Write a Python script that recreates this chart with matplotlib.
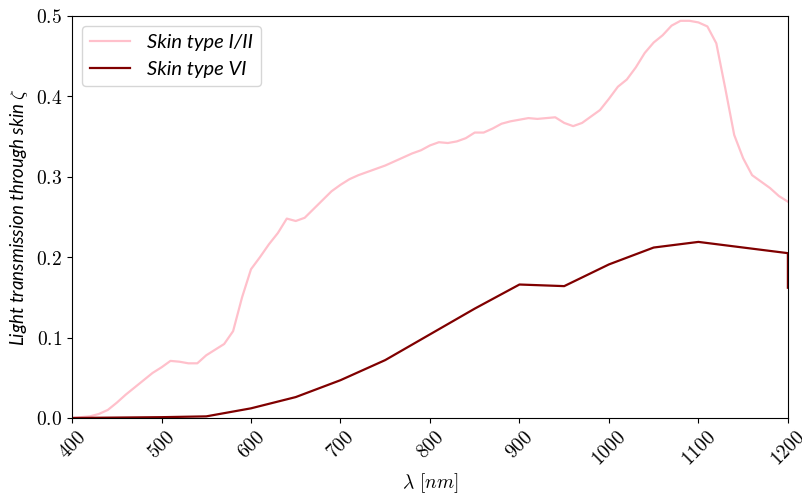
import matplotlib
matplotlib.use("Agg")
import matplotlib.pyplot as plt
import numpy as np

plt.rcParams['mathtext.fontset'] = 'cm'

wl_light = list(range(400, 1201, 10))
skin_light = [0.000, 0.001, 0.002, 0.005, 0.010, 0.019, 0.029, 0.038, 0.047, 0.056,
              0.063, 0.071, 0.070, 0.068, 0.068, 0.078, 0.085, 0.092, 0.108, 0.150,
              0.185, 0.200, 0.216, 0.230, 0.248, 0.245, 0.249, 0.260, 0.271, 0.282,
              0.290, 0.297, 0.302, 0.306, 0.310, 0.314, 0.319, 0.324, 0.329, 0.333,
              0.339, 0.343, 0.342, 0.344, 0.348, 0.355, 0.355, 0.360, 0.366, 0.369,
              0.371, 0.373, 0.372, 0.373, 0.374, 0.367, 0.363, 0.367, 0.375, 0.383,
              0.397, 0.412, 0.421, 0.436, 0.454, 0.467, 0.476, 0.488, 0.494, 0.494,
              0.492, 0.487, 0.466, 0.410, 0.352, 0.323, 0.302, 0.294, 0.286, 0.276,
              0.269]

wl_dark = [400, 500, 550, 600, 650, 700, 750, 800, 850, 900, 950, 1000, 1050, 1100, 1150, 1200, 1200]
skin_dark = [0.000, 0.001, 0.002, 0.012, 0.026, 0.047, 0.072, 0.104, 0.136, 0.166,
             0.164, 0.191, 0.212, 0.219, 0.212, 0.205, 0.162]

xticks = [400, 500, 600, 700, 800, 900, 1000, 1100, 1200]
yticks = [0.0, 0.1, 0.2, 0.3, 0.4, 0.5]

fig = plt.figure(figsize=(8.03, 4.95), dpi=100)
ax = fig.add_axes([0.0897, 0.1556, 0.8915, 0.8121])

ax.plot(wl_light, skin_light, color='pink', lw=1.6, label='Skin type I/II')
ax.plot(wl_dark, skin_dark, color='#800000', lw=1.6, label='Skin type VI')

ax.set_xlim(400, 1200)
ax.set_ylim(0, 0.5)
ax.set_xticks(xticks)
ax.set_xticklabels([f'${t}$' for t in xticks], rotation=45, fontsize=14)
ax.set_yticks(yticks)
ax.set_yticklabels([f'${t:.1f}$' for t in yticks], fontsize=14)

ax.set_xlabel(r'$\lambda\ [nm]$', fontsize=14, labelpad=1)
ax.set_ylabel(r'Light transmission through skin $\zeta$', fontsize=13.5,
              family='Lato', style='italic')

leg = ax.legend(loc='upper left', prop={'family': 'Lato', 'style': 'italic', 'size': 14.5})

fig.savefig('out.png', dpi=100)
